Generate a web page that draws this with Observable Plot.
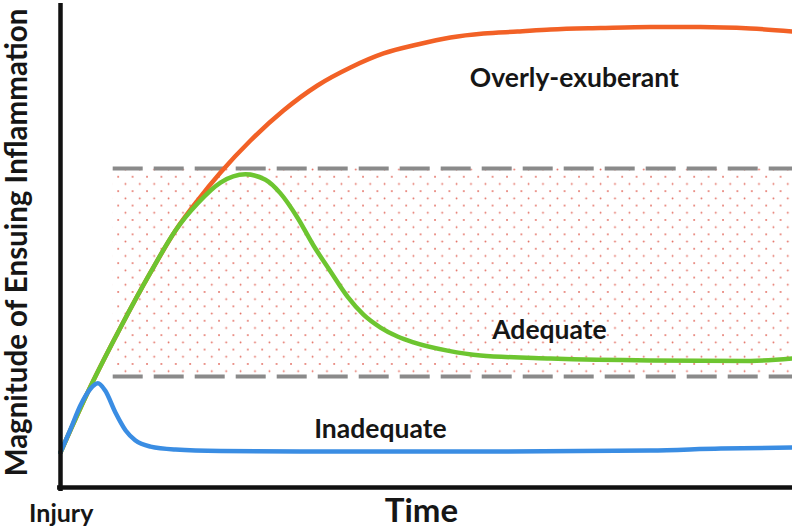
<!DOCTYPE html>
<html>
<head>
<meta charset="utf-8">
<script src="https://cdn.jsdelivr.net/npm/d3@7"></script>
<script src="https://cdn.jsdelivr.net/npm/@observablehq/plot@0.6"></script>
<style>
  html, body { margin: 0; padding: 0; background: #fff; }
  #chart { width: 792px; height: 528px; }
</style>
</head>
<body>
<div id="chart"></div>
<script>
// Time (0–100, arbitrary) and magnitude (0–100, arbitrary)
const overlyTime = [0, 4.10, 8.20, 12.30, 15.71, 18.72, 21.86, 25.96, 30.46, 35.11, 39.62, 44.13, 48.77, 53.28, 57.79, 62.43, 66.94, 73.77, 80.60, 87.43, 94.26, 100];
const overlyMag  = [7.19, 20.74, 32.85, 44.15, 52.77, 58.93, 64.68, 71.25, 77.41, 82.55, 86.24, 89.12, 90.97, 92.40, 93.22, 93.63, 94.05, 94.35, 94.56, 94.56, 94.25, 93.63];

const adequateTime = [0, 4.10, 8.20, 12.30, 15.71, 18.72, 21.86, 25.27, 28.0, 30.05, 32.38, 34.56, 36.89, 39.21, 41.39, 43.72, 46.04, 48.22, 52.87, 57.38, 66.94, 80.6, 94.26, 100];
const adequateMag  = [7.19, 20.74, 32.85, 44.15, 52.77, 58.3, 62.6, 64.3, 63.2, 60.4, 55.4, 49.7, 44.35, 39.2, 35.5, 32.85, 31.0, 29.8, 28.1, 27.1, 26.5, 26.1, 26.0, 26.5];

const inadequateTime = [0, 1.4, 2.7, 4.1, 5.1, 6.1, 7.5, 8.9, 10.2, 12.3, 15.7, 21.9, 32.8, 60.1, 80.6, 90.2, 100];
const inadequateMag  = [7.2, 12.1, 16.8, 20.3, 21.4, 19.9, 15.4, 11.7, 9.7, 8.4, 7.8, 7.5, 7.4, 7.4, 7.6, 8.0, 8.2];

// Adequate range band
const bandStart = 7.2, bandEnd = 100;
const bandLow = 22.8, bandHigh = 65.5;

// Labels
const curveLabels = ["Overly-exuberant", "Adequate", "Inadequate"];
const curveLabelX = [70.2, 66.8, 43.7];
const curveLabelY = [83.9, 32.3, 12.0];

const series = [
  {name: "Overly-exuberant", t: overlyTime, m: overlyMag, color: "#f26126"},
  {name: "Adequate", t: adequateTime, m: adequateMag, color: "#6dc530"},
  {name: "Inadequate", t: inadequateTime, m: inadequateMag, color: "#3a8de3"}
];
const lineData = series.flatMap(s => s.t.map((t, i) => ({series: s.name, t, m: s.m[i], color: s.color})));
const labelData = curveLabels.map((l, i) => ({label: l, x: curveLabelX[i], y: curveLabelY[i]}));

const font = "Lato, 'Open Sans', sans-serif";

const chart = Plot.plot({
  width: 792,
  height: 528,
  marginLeft: 60,
  marginRight: 0,
  marginTop: 0,
  marginBottom: 41,
  x: {domain: [0, 100], axis: null},
  y: {domain: [0, 100], axis: null},
  style: {fontFamily: font, background: "white", overflow: "visible"},
  marks: [
    Plot.rect([{x1: bandStart, x2: bandEnd, y1: bandLow, y2: bandHigh}], {x1: "x1", x2: "x2", y1: "y1", y2: "y2", fill: "url(#dots)"}),
    Plot.ruleY([bandLow, bandHigh], {x1: bandStart, x2: bandEnd, stroke: "#8a8a8a", strokeWidth: 4, strokeDasharray: "30,11"}),
    Plot.line(lineData, {x: "t", y: "m", z: "series", stroke: "color", strokeWidth: 4.5, curve: "monotone-x"}),
    Plot.ruleY([0], {stroke: "#111", strokeWidth: 4.5, x1: -0.4, x2: 100}),
    Plot.ruleX([0], {stroke: "#111", strokeWidth: 4.5, y1: -0.8, y2: 99.4}),
    Plot.text(labelData, {x: "x", y: "y", text: "label", fontSize: 26.5, fontWeight: "bold", fill: "#161616"}),
    Plot.text(["Injury"], {x: 0.1, y: -5.5, text: d => d, fontSize: 25, fontWeight: "bold", fill: "#161616", clip: false}),
    Plot.text(["Time"], {x: 49.3, y: -5.0, text: d => d, fontSize: 33, fontWeight: "bold", fill: "#161616", clip: false}),
    Plot.text(["Magnitude of Ensuing Inflammation"], {x: -5.8, y: 50.3, text: d => d, rotate: -90, fontSize: 29.5, fontWeight: "bold", fill: "#161616", clip: false})
  ]
});

// pattern definition for the dotted band
const ns = "http://www.w3.org/2000/svg";
const defs = document.createElementNS(ns, "defs");
const pat = document.createElementNS(ns, "pattern");
pat.setAttribute("id", "dots");
pat.setAttribute("patternUnits", "userSpaceOnUse");
pat.setAttribute("width", "14.4");
pat.setAttribute("height", "14.4");
pat.setAttribute("x", "2");
pat.setAttribute("y", "3");
[[1, 1], [8.2, 8.2]].forEach(([cx, cy]) => {
  const c = document.createElementNS(ns, "circle");
  c.setAttribute("cx", cx);
  c.setAttribute("cy", cy);
  c.setAttribute("r", "0.9");
  c.setAttribute("fill", "#e2685c");
  pat.appendChild(c);
});
defs.appendChild(pat);
chart.insertBefore(defs, chart.firstChild);

document.getElementById("chart").appendChild(chart);
</script>
</body>
</html>
